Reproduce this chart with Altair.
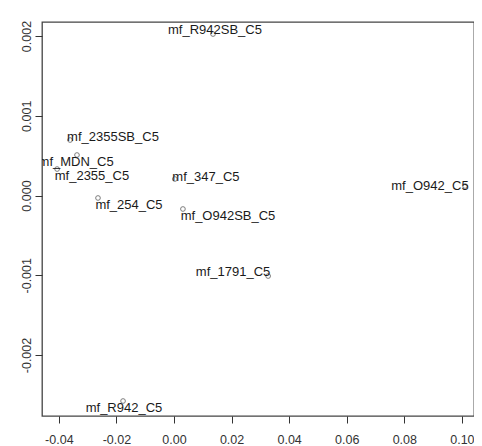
import altair as alt
import pandas as pd

labels = ["mf_R942SB_C5", "mf_2355SB_C5", "mf_MDN_C5", "mf_2355_C5", "mf_347_C5",
          "mf_254_C5", "mf_O942SB_C5", "mf_O942_C5", "mf_1791_C5", "mf_R942_C5"]
point_x = [0.01355, -0.0361, -0.0337, -0.0406, 0.0003, -0.0264, 0.0031, 0.1011, 0.0327, -0.0177]
point_y = [0.002025, 0.000696, 0.000508, 0.000332, 0.000207, -0.000031, -0.000169, 0.000119, -0.00101, -0.002577]
label_x = [0.01424, -0.0212, -0.0340, -0.0285, 0.0111, -0.01563, 0.01876, 0.0889, 0.0205, -0.01737]
label_y = [0.002075, 0.000734, 0.00042, 0.000245, 0.000232, -0.000119, -0.000257, 0.000119, -0.000959, -0.002665]

x_ticks = [-0.04, -0.02, 0.0, 0.02, 0.04, 0.06, 0.08, 0.10]
y_ticks = [-0.002, -0.001, 0.0, 0.001, 0.002]
x_domain = [-0.04585, 0.10420]
y_domain = [-0.002765, 0.002176]

df = pd.DataFrame({"label": labels, "px": point_x, "py": point_y, "lx": label_x, "ly": label_y})

axis_common = dict(domain=False, grid=False, ticks=True, tickSize=7, tickColor="#333",
                   tickWidth=1, labelFont="Liberation Sans", labelFontSize=12.5,
                   labelColor="#333", title=None)

xs = alt.Scale(domain=x_domain, nice=False, zero=False)
ys = alt.Scale(domain=y_domain, nice=False, zero=False)

points = alt.Chart(df).mark_point(shape="circle", filled=False, size=22, color="#333",
                                  strokeWidth=0.9, clip=True).encode(
    x=alt.X("px:Q", scale=xs,
            axis=alt.Axis(values=x_ticks, format=".2f", labelPadding=10,
                          labelExpr="replace(datum.label, '\u2212', '-')", **axis_common)),
    y=alt.Y("py:Q", scale=ys,
            axis=alt.Axis(values=y_ticks, format=".3f", labelAngle=270, labelAlign="center",
                          labelBaseline="bottom", labelPadding=2,
                          labelExpr="replace(datum.label, '\u2212', '-')", **axis_common)),
)

texts = alt.Chart(df).mark_text(font="Liberation Sans", fontSize=13, color="#1a1a1a",
                                align="center", baseline="middle", clip=True).encode(
    x=alt.X("lx:Q", scale=xs),
    y=alt.Y("ly:Q", scale=ys),
    text="label:N",
)

chart = (points + texts).properties(
    width=432, height=394,
    autosize=alt.AutoSizeParams(type="none"),
    padding={"left": 34, "top": 14, "right": 0, "bottom": 30},
).configure_view(stroke="#444", strokeWidth=1.3)

chart.save("out.html", embed_options={"renderer": "svg", "actions": False})
